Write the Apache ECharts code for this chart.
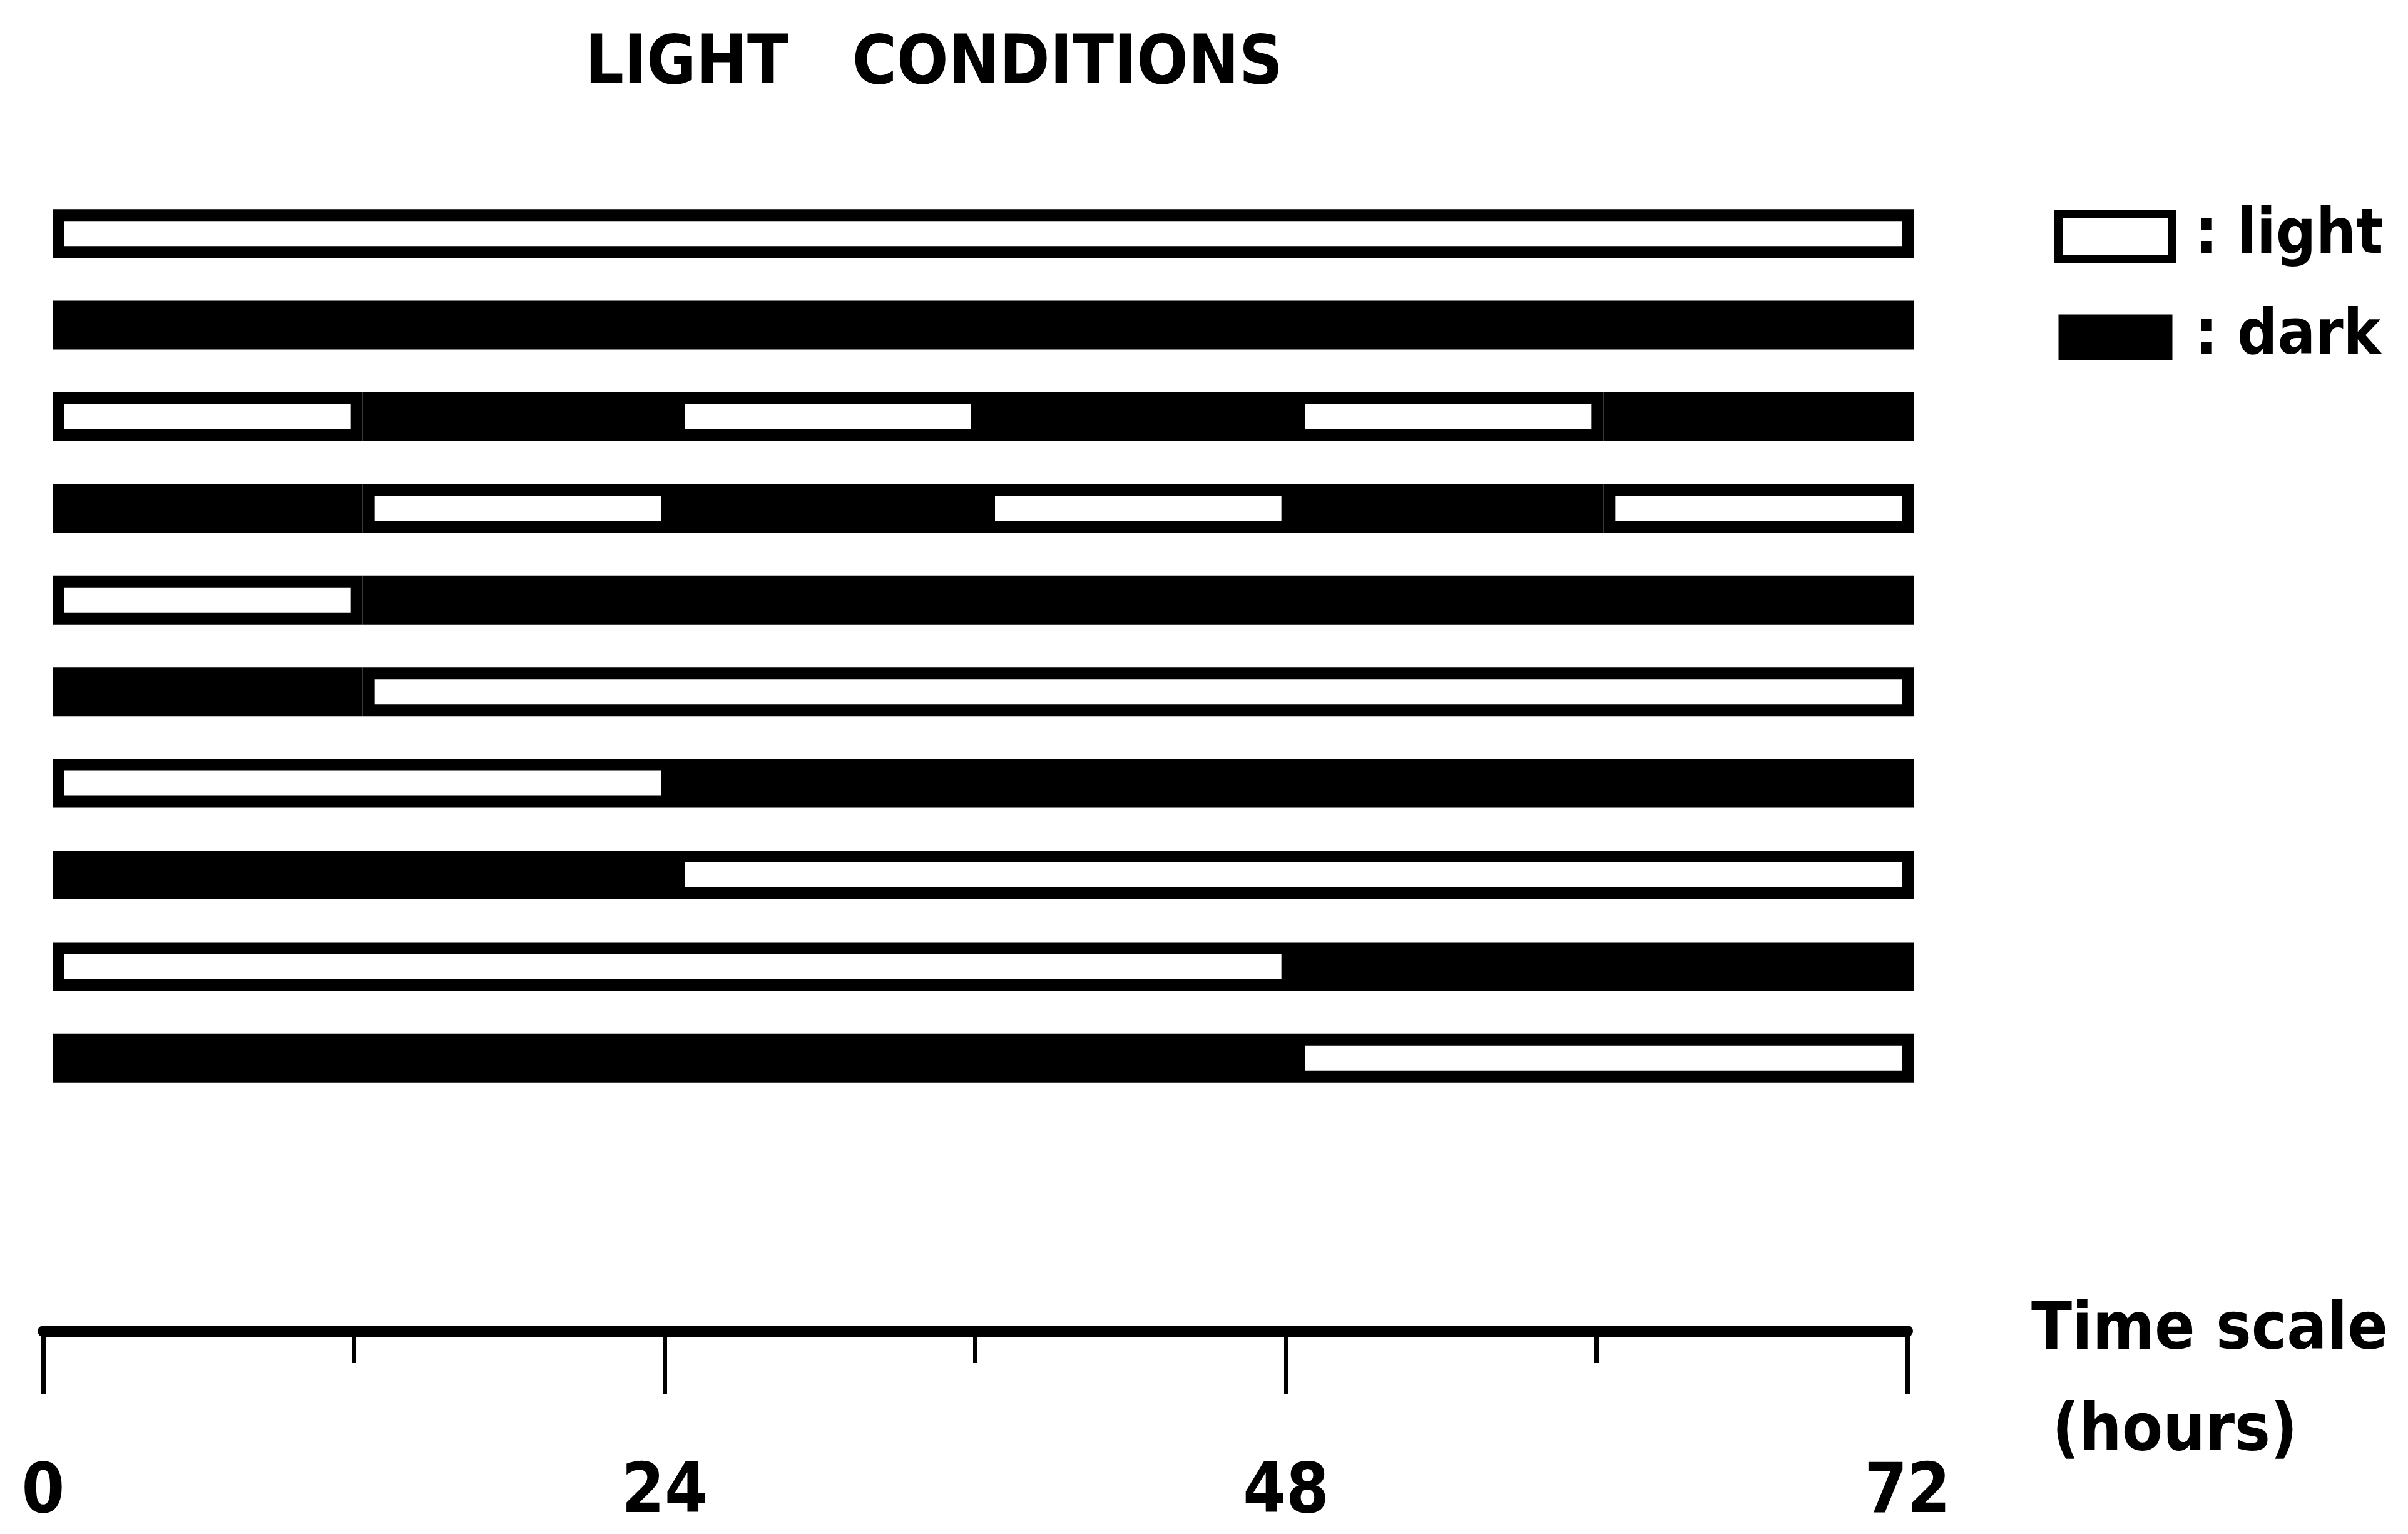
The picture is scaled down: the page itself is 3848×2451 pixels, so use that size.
<!DOCTYPE html>
<html>
<head>
<meta charset="utf-8">
<title>Light conditions</title>
<script src="https://cdn.jsdelivr.net/npm/echarts@6/dist/echarts.min.js"></script>
<style>
  html, body { margin: 0; padding: 0; background: #fff; }
  #chart { width: 3848px; height: 2451px; }
</style>
</head>
<body>
<div id="chart"></div>
<script>
// rows of the schedule, top to bottom
const rows = [1, 2, 3, 4, 5, 6, 7, 8, 9, 10];
// [row index, start hour, end hour]
const lightPeriods = [
  [0, 0, 72],
  [2, 0, 12], [2, 24, 36], [2, 48, 60],
  [3, 12, 24], [3, 36, 48], [3, 60, 72],
  [4, 0, 12],
  [5, 12, 72],
  [6, 0, 24],
  [7, 24, 72],
  [8, 0, 48],
  [9, 48, 72]
];
const darkPeriods = [
  [1, 0, 72],
  [2, 12, 24], [2, 36, 48], [2, 60, 72],
  [3, 0, 12], [3, 24, 36], [3, 48, 60],
  [4, 12, 72],
  [5, 0, 12],
  [6, 24, 72],
  [7, 0, 24],
  [8, 48, 72],
  [9, 0, 48]
];
const hourTicks = [0, 24, 48, 72];

const narrow = '"DejaVu Sans Condensed", "Liberation Sans", sans-serif';
const BAR_H = 78;
const EDGE = 19;

const chart = echarts.init(document.getElementById('chart'));

function periodRenderer(isLight) {
  return function (params, api) {
    const row = api.value(0);
    const p0 = api.coord([api.value(1), row]);
    const p1 = api.coord([api.value(2), row]);
    const w = p1[0] - p0[0];
    if (isLight) {
      return {
        type: 'rect',
        shape: { x: p0[0] + EDGE / 2, y: p0[1] - BAR_H / 2 + EDGE / 2, width: w - EDGE, height: BAR_H - EDGE },
        style: { fill: '#fff', stroke: '#000', lineWidth: EDGE }
      };
    }
    return {
      type: 'rect',
      shape: { x: p0[0], y: p0[1] - BAR_H / 2, width: w, height: BAR_H },
      style: { fill: '#000' }
    };
  };
}

const option = {
  backgroundColor: '#fff',
  animation: false,
  title: {
    text: 'LIGHT   CONDITIONS',
    left: 930,
    top: 46,
    textStyle: { fontFamily: narrow, fontSize: 108, fontWeight: 'bold', color: '#000' }
  },
  legend: {
    orient: 'vertical',
    left: 3283,
    top: 328,
    padding: 0,
    itemGap: 61,
    itemWidth: 182,
    itemHeight: 73,
    icon: 'rect',
    formatter: function (name) { return ' : ' + name; },
    textStyle: { fontFamily: narrow, fontSize: 100, fontWeight: 'bold', color: '#000' },
    data: [
      { name: 'light', itemStyle: { color: '#fff', borderColor: '#000', borderWidth: 13 } },
      { name: 'dark', itemStyle: { color: '#000', borderWidth: 0 } }
    ]
  },
  grid: [
    { left: 84, width: 2974, top: 300, height: 1464 },
    { left: 69, width: 2979, top: 2125, height: 2 }
  ],
  xAxis: [
    { gridIndex: 0, type: 'value', min: 0, max: 72, show: false },
    {
      gridIndex: 1, type: 'value', min: 0, max: 72, interval: 24,
      position: 'bottom',
      axisLine: { show: true, lineStyle: { color: '#000', width: 18 } },
      axisTick: { show: true, length: 100, lineStyle: { color: '#000', width: 7 } },
      minorTick: { show: true, splitNumber: 2, length: 50, lineStyle: { color: '#000', width: 7 } },
      splitLine: { show: false },
      axisLabel: {
        margin: 205, fontFamily: narrow, fontSize: 110, fontWeight: 'bold', color: '#000',
        customValues: hourTicks
      },
      // leading blank line pushes the two-line name below the axis line
      name: '\nTime scale\n (hours)',
      nameLocation: 'end',
      nameGap: 198,
      nameTextStyle: {
        fontFamily: narrow, fontSize: 106, fontWeight: 'bold', color: '#000',
        align: 'left', verticalAlign: 'middle', lineHeight: 162
      }
    }
  ],
  yAxis: [
    { gridIndex: 0, type: 'category', data: rows, inverse: true, show: false },
    { gridIndex: 1, type: 'value', show: false }
  ],
  series: [
    {
      name: 'dark', type: 'custom', xAxisIndex: 0, yAxisIndex: 0,
      itemStyle: { color: '#000' },
      encode: { x: [1, 2], y: 0 },
      renderItem: periodRenderer(false),
      data: darkPeriods
    },
    {
      name: 'light', type: 'custom', xAxisIndex: 0, yAxisIndex: 0,
      itemStyle: { color: '#fff', borderColor: '#000' },
      encode: { x: [1, 2], y: 0 },
      renderItem: periodRenderer(true),
      data: lightPeriods
    }
  ]
};

chart.setOption(option);
</script>
</body>
</html>
